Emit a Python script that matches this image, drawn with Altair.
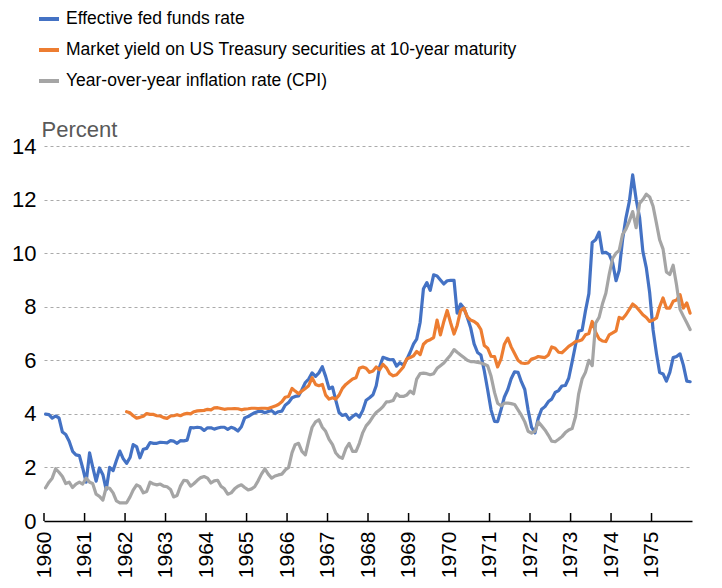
import altair as alt
import pandas as pd

# ---------------- data (monthly, Jan 1960 - Dec 1975) ----------------
years = list(range(1960, 1976))
months = [f"{y}-{m:02d}-15" for y in years for m in range(1, 13)]

fed_funds = [
    3.99, 3.97, 3.84, 3.92, 3.85, 3.32, 3.23, 2.98, 2.60, 2.47, 2.44, 1.98,
    1.45, 2.54, 2.02, 1.49, 1.98, 1.73, 1.17, 2.00, 1.88, 2.26, 2.61, 2.33,
    2.15, 2.37, 2.85, 2.78, 2.36, 2.68, 2.71, 2.93, 2.90, 2.90, 2.94, 2.93,
    2.92, 3.00, 2.98, 2.90, 3.00, 2.99, 3.02, 3.49, 3.48, 3.50, 3.48, 3.38,
    3.48, 3.48, 3.43, 3.47, 3.50, 3.50, 3.42, 3.50, 3.45, 3.36, 3.52, 3.85,
    3.90, 3.98, 4.04, 4.09, 4.10, 4.04, 4.09, 4.12, 4.01, 4.08, 4.10, 4.32,
    4.42, 4.60, 4.65, 4.67, 4.90, 5.17, 5.30, 5.53, 5.40, 5.53, 5.76, 5.40,
    4.94, 5.00, 4.53, 4.05, 3.94, 3.98, 3.79, 3.90, 3.99, 3.88, 4.13, 4.51,
    4.60, 4.71, 5.05, 5.76, 6.11, 6.07, 6.02, 6.03, 5.78, 5.91, 5.82, 6.02,
    6.30, 6.61, 6.79, 7.41, 8.67, 8.90, 8.61, 9.19, 9.15, 9.00, 8.85, 8.97,
    8.98, 8.98, 7.76, 8.10, 7.94, 7.60, 7.21, 6.61, 6.29, 6.20, 5.60, 4.90,
    4.14, 3.72, 3.71, 4.16, 4.63, 4.91, 5.31, 5.57, 5.55, 5.20, 4.91, 4.14,
    3.50, 3.29, 3.83, 4.17, 4.27, 4.46, 4.55, 4.80, 4.87, 5.04, 5.06, 5.33,
    5.94, 6.58, 7.09, 7.12, 7.84, 8.49, 10.40, 10.50, 10.78, 10.01, 10.03, 9.95,
    9.65, 8.97, 9.35, 10.51, 11.31, 11.93, 12.92, 12.01, 11.34, 10.06, 9.45, 8.53,
    7.13, 6.24, 5.54, 5.49, 5.22, 5.55, 6.10, 6.14, 6.24, 5.82, 5.22, 5.20,
]

# 10-year Treasury yield starts in January 1962
treasury_10y = [
    4.08, 4.04, 3.93, 3.84, 3.87, 3.91, 4.01, 3.98, 3.98, 3.93, 3.92, 3.86,
    3.83, 3.92, 3.93, 3.97, 3.93, 3.99, 4.02, 4.00, 4.08, 4.11, 4.12, 4.13,
    4.17, 4.15, 4.22, 4.23, 4.20, 4.17, 4.19, 4.19, 4.20, 4.19, 4.15, 4.18,
    4.19, 4.21, 4.21, 4.20, 4.21, 4.21, 4.20, 4.25, 4.29, 4.35, 4.45, 4.62,
    4.65, 4.95, 4.85, 4.75, 4.85, 4.95, 5.05, 5.35, 5.10, 5.05, 5.10, 4.70,
    4.55, 4.60, 4.55, 4.70, 4.95, 5.10, 5.20, 5.30, 5.35, 5.70, 5.75, 5.70,
    5.55, 5.60, 5.75, 5.65, 5.85, 5.72, 5.50, 5.42, 5.46, 5.60, 5.75, 6.05,
    6.10, 6.17, 6.33, 6.21, 6.60, 6.72, 6.77, 6.85, 7.50, 6.95, 7.45, 7.86,
    7.40, 6.98, 7.30, 7.85, 7.95, 7.62, 7.50, 7.45, 7.35, 7.15, 6.55, 6.45,
    6.15, 6.14, 5.75, 6.05, 6.60, 6.83, 6.50, 6.25, 6.00, 5.90, 5.88, 5.90,
    6.05, 6.08, 6.14, 6.12, 6.10, 6.20, 6.50, 6.45, 6.30, 6.28, 6.40, 6.52,
    6.60, 6.70, 6.72, 6.77, 6.95, 7.00, 7.45, 7.05, 6.80, 6.72, 6.70, 6.95,
    7.02, 7.10, 7.60, 7.55, 7.70, 7.90, 8.10, 8.00, 7.85, 7.70, 7.60, 7.45,
    7.50, 7.58, 8.00, 8.33, 7.95, 7.95, 8.20, 8.25, 8.45, 7.95, 8.14, 7.76,
]

cpi_yoy = [
    1.24, 1.45, 1.60, 1.95, 1.82, 1.66, 1.40, 1.45, 1.25, 1.38, 1.45, 1.38,
    1.60, 1.45, 1.40, 1.00, 0.92, 0.78, 1.25, 1.22, 1.05, 0.75, 0.68, 0.68,
    0.68, 0.90, 1.15, 1.35, 1.28, 1.05, 1.10, 1.45, 1.38, 1.35, 1.38, 1.30,
    1.28, 1.18, 0.90, 0.95, 1.30, 1.52, 1.50, 1.30, 1.40, 1.52, 1.62, 1.66,
    1.60, 1.42, 1.50, 1.52, 1.30, 1.20, 1.00, 1.05, 1.20, 1.30, 1.35, 1.25,
    1.16, 1.20, 1.28, 1.50, 1.75, 1.95, 1.75, 1.60, 1.68, 1.72, 1.75, 1.90,
    2.00, 2.55, 2.85, 2.90, 2.60, 2.47, 3.00, 3.50, 3.70, 3.78, 3.50, 3.35,
    3.05, 2.85, 2.55, 2.40, 2.34, 2.70, 2.90, 2.60, 2.60, 2.90, 3.30, 3.55,
    3.70, 3.90, 4.05, 4.15, 4.27, 4.45, 4.46, 4.50, 4.75, 4.65, 4.65, 4.70,
    4.85, 4.75, 5.30, 5.50, 5.52, 5.50, 5.46, 5.50, 5.70, 5.80, 5.90, 6.05,
    6.20, 6.40, 6.30, 6.20, 6.10, 6.00, 5.95, 5.95, 5.92, 5.90, 5.85, 5.80,
    5.40, 4.80, 4.40, 4.30, 4.40, 4.40, 4.38, 4.35, 4.15, 3.95, 3.70, 3.35,
    3.28, 3.35, 3.70, 3.55, 3.40, 3.20, 2.98, 2.96, 3.05, 3.15, 3.30, 3.40,
    3.45, 3.90, 4.75, 5.30, 5.55, 6.00, 5.80, 7.39, 7.60, 8.10, 8.50, 9.20,
    9.80, 10.00, 10.10, 10.70, 10.90, 11.20, 11.55, 10.95, 11.85, 12.00, 12.20, 12.10,
    11.75, 11.10, 10.50, 10.15, 9.30, 9.20, 9.55, 8.80, 7.90, 7.65, 7.40, 7.15,
]

series_names = [
    "Effective fed funds rate",
    "Market yield on US Treasury securities at 10-year maturity",
    "Year-over-year inflation rate (CPI)",
]
series_colors = ["#4472C4", "#ED7D31", "#A5A5A5"]
y_ticks = [0, 2, 4, 6, 8, 10, 12, 14]

# ---------------- table ----------------
rows = []
for d, v in zip(months, fed_funds):
    rows.append({"date": d, "series": series_names[0], "value": v})
for d, v in zip(months[24:], treasury_10y):
    rows.append({"date": d, "series": series_names[1], "value": v})
for d, v in zip(months, cpi_yoy):
    rows.append({"date": d, "series": series_names[2], "value": v})
df = pd.DataFrame(rows)

tick_df = pd.DataFrame({"date": [f"{y}-01-01" for y in years]})

W, H = 648, 375
FONT = "Liberation Sans"

x_scale = alt.Scale(
    type="utc",
    domain=[alt.DateTime(year=1960, month=1, date=1, utc=True),
            alt.DateTime(year=1976, month=1, date=1, utc=True)],
)
year_values = [alt.DateTime(year=y, month=1, date=1, utc=True) for y in years]

lines = alt.Chart(df).mark_line(strokeWidth=3.2, strokeJoin="round", strokeCap="round").encode(
    x=alt.X(
        "date:T",
        scale=x_scale,
        axis=alt.Axis(
            values=year_values, format="%Y", formatType="utc", labelAngle=-90,
            labelAlign="right", labelBaseline="middle",
            ticks=False, grid=False, domainColor="black", domainWidth=1.5,
            labelFontSize=21, labelColor="black", labelFont=FONT, labelPadding=10,
            title=None, labelOverlap=False,
        ),
    ),
    y=alt.Y(
        "value:Q",
        scale=alt.Scale(domain=[0, 14], nice=False),
        axis=alt.Axis(
            values=y_ticks, grid=True, gridDash=[3, 3], gridColor="#aaaaaa", gridWidth=1,
            domain=False, ticks=False, labelPadding=8, labelFontSize=22,
            labelColor="black", labelFont=FONT,
            title="Percent", titleAngle=0, titleX=-3, titleY=-10, titleAlign="left",
            titleBaseline="alphabetic", titleFontWeight="normal", titleColor="#595959",
            titleFontSize=22, titleFont=FONT,
        ),
    ),
    color=alt.Color(
        "series:N",
        scale=alt.Scale(domain=series_names, range=series_colors),
        legend=alt.Legend(
            title=None, orient="none", legendX=-7, legendY=-139,
            symbolType="stroke", symbolStrokeWidth=4, symbolSize=400,
            labelFontSize=17.5, labelFont=FONT, labelColor="black",
            rowPadding=10, labelOffset=5, labelLimit=700,
        ),
    ),
)

ticks = alt.Chart(tick_df).mark_rule(color="black", strokeWidth=1.5).encode(
    x=alt.X("date:T", scale=x_scale),
    y=alt.value(H),
    y2=alt.value(H - 8),
)

chart = alt.layer(lines, ticks).properties(
    width=W,
    height=H,
    autosize=alt.AutoSizeParams(type="none"),
    padding={"left": 36, "top": 138, "right": 14, "bottom": 59},
).configure_view(stroke=None)

chart.save("out.html", embed_options={"renderer": "svg", "actions": False})
